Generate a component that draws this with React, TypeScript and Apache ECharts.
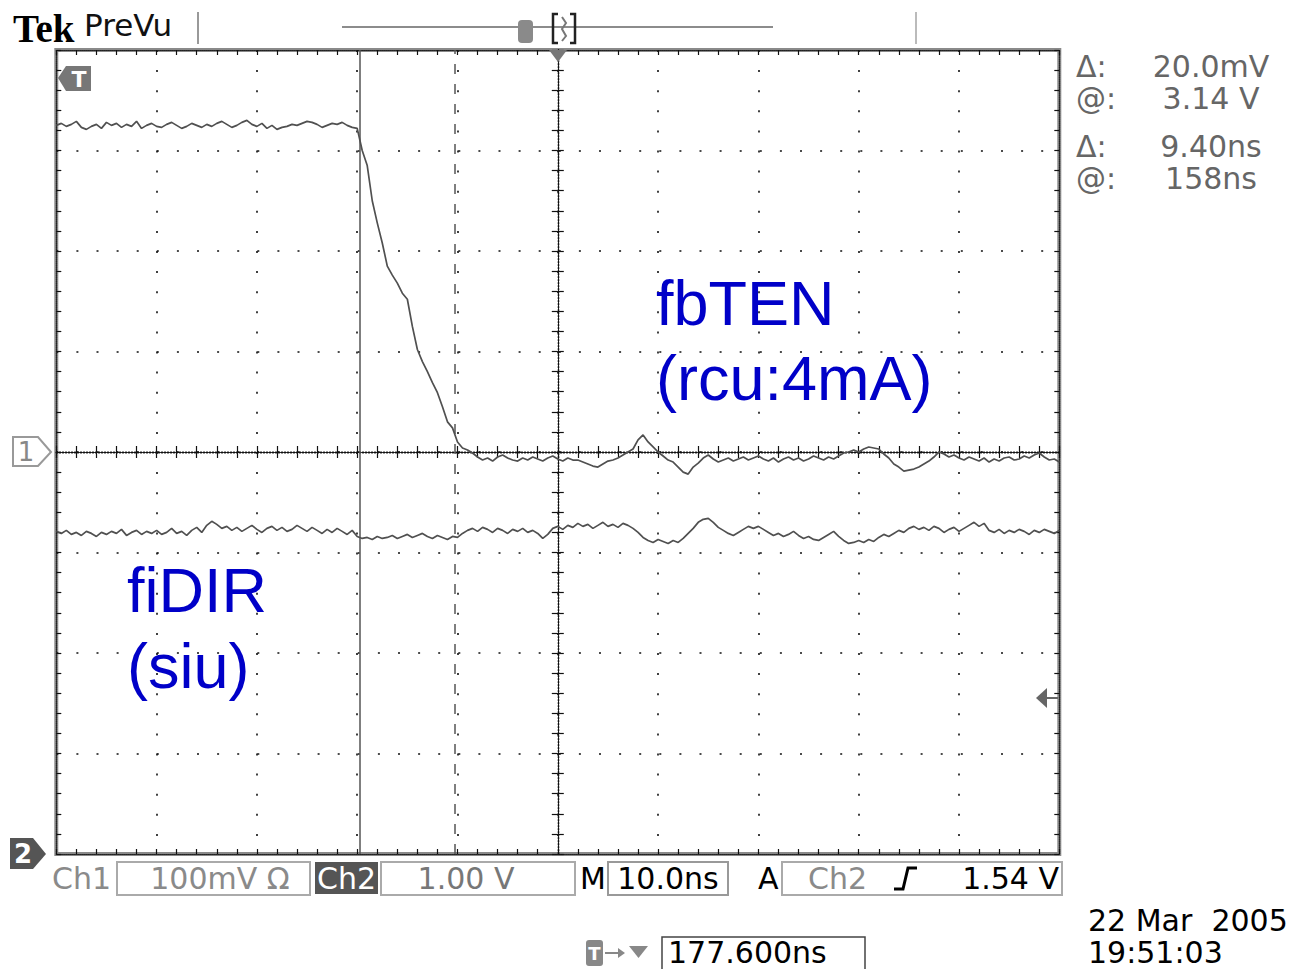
import React, { useEffect, useRef } from "react";
import * as echarts from "echarts";

// ---- Acquisition data ----
const SAMPLE_START_NS = -50; // left edge of the screen, relative to trigger
const SAMPLE_STEP_NS = 0.5;

// Ch1 (fbTEN) in mV, 100 mV/div, ground at centre
const CH1_MV = [
  325, 327, 324, 326, 329, 323, 321, 324, 326, 322,
  328, 325, 327, 323, 326, 324, 329, 322, 325, 327,
  324, 323, 326, 328, 325, 322, 324, 327, 325, 323,
  326, 324, 327, 329, 326, 323, 325, 328, 330, 326,
  324, 327, 322, 325, 321, 323, 324, 326, 325, 327,
  329, 328, 326, 323, 325, 327, 326, 328, 325, 323,
  322, 300, 285, 250, 228, 208, 185, 176, 168, 158,
  152, 125, 102, 90, 80, 69, 59, 45, 30, 24,
  10, 4, 2, -1, -5, -8, -6, -9, -5, -3,
  -6, -8, -9, -6, -8, -5, -7, -9, -6, -4,
  -7, -9, -6, -8, -8, -10, -12, -14, -15, -12,
  -9, -8, -6, -3, 0, 3, 12, 17, 10, 5,
  0, -4, -8, -10, -15, -20, -22, -15, -11, -6,
  -3, -7, -10, -8, -6, -9, -7, -5, -8, -6,
  -4, -7, -9, -6, -10, -7, -5, -8, -6, -9,
  -7, -4, -6, -8, -5, -7, -4, -1, 0, 2,
  0, 3, 5, 4, 3, -2, -6, -12, -15, -19,
  -18, -17, -15, -12, -9, -5, 0, -2, -5, -3,
  -6, -8, -5, -7, -9, -6, -10, -7, -9, -6,
  -5, -8, -7, -4, -6, -3, -1, -5, -8, -7, -10,
];

// Ch2 (fiDIR) in V, 1 V/div, ground marker at bottom of screen
const CH2_V = [
  3.21, 3.19, 3.22, 3.18, 3.2, 3.17, 3.21, 3.19, 3.16, 3.2,
  3.18, 3.21, 3.19, 3.23, 3.17, 3.2, 3.22, 3.18, 3.21, 3.19,
  3.22, 3.18, 3.2, 3.24, 3.19, 3.21, 3.17, 3.22, 3.25, 3.2,
  3.27, 3.31, 3.28, 3.24, 3.26, 3.22, 3.25, 3.21, 3.24, 3.27,
  3.23, 3.2, 3.24, 3.26, 3.22, 3.25, 3.21, 3.23, 3.27, 3.24,
  3.21, 3.25, 3.22, 3.19, 3.23, 3.2, 3.24, 3.21, 3.18, 3.22,
  3.16, 3.14, 3.15, 3.13, 3.16, 3.14, 3.15, 3.17, 3.14, 3.16,
  3.18, 3.15, 3.17, 3.19, 3.16, 3.14, 3.17, 3.15, 3.13, 3.16,
  3.15, 3.19, 3.22, 3.24, 3.21, 3.25, 3.23, 3.2, 3.24, 3.22,
  3.19, 3.23, 3.21, 3.24, 3.2, 3.22, 3.19, 3.14, 3.18, 3.24,
  3.26, 3.23, 3.27, 3.25, 3.29, 3.26, 3.28, 3.24, 3.27, 3.3,
  3.26, 3.28, 3.25, 3.29, 3.27, 3.24, 3.2, 3.15, 3.12, 3.1,
  3.13, 3.11, 3.09, 3.12, 3.1, 3.14, 3.19, 3.24, 3.3, 3.33,
  3.34, 3.3, 3.25, 3.22, 3.19, 3.17, 3.2, 3.23, 3.26, 3.24,
  3.26, 3.23, 3.2, 3.17, 3.19, 3.16, 3.18, 3.21, 3.17, 3.14,
  3.16, 3.13, 3.12, 3.15, 3.18, 3.21, 3.16, 3.12, 3.09, 3.1,
  3.12, 3.1, 3.13, 3.11, 3.15, 3.18, 3.16, 3.19, 3.22, 3.2,
  3.24, 3.26, 3.23, 3.25, 3.22, 3.26, 3.24, 3.2, 3.23, 3.25,
  3.21, 3.24, 3.27, 3.3, 3.26, 3.29, 3.22, 3.2, 3.23, 3.19,
  3.22, 3.2, 3.23, 3.21, 3.18, 3.22, 3.2, 3.23, 3.21, 3.19, 3.22,
];

const CH1_MV_PER_DIV = 100;
const CH2_V_PER_DIV = 1;
const CH2_GROUND_DIV = -4;
const CURSOR_NS = [-19.7, -10.3];

const X_TICKS_NS = [-50, 50, 10]; // min, max, ns/div
const Y_DIVS = [-4, 4, 1];

const READOUTS = [
  ["\u0394:", "20.0mV"],
  ["@:", "3.14 V"],
  ["\u0394:", "9.40ns"],
  ["@:", "158ns"],
];

const SANS = '"DejaVu Sans", sans-serif';
const ARIAL = '"Liberation Sans", Arial, sans-serif';

export default function App() {
  const ref = useRef<HTMLDivElement>(null);

  useEffect(() => {
    if (!ref.current) return;
    const chart = echarts.init(ref.current, null, { renderer: "svg" });

    const ch1 = CH1_MV.map((v, i) => [SAMPLE_START_NS + i * SAMPLE_STEP_NS, v / CH1_MV_PER_DIV]);
    const ch2 = CH2_V.map((v, i) => [SAMPLE_START_NS + i * SAMPLE_STEP_NS, v / CH2_V_PER_DIV + CH2_GROUND_DIV]);

    const tick = (len: number) => ({ show: true, inside: true, length: len, lineStyle: { color: "#111", width: 1.2 } });
    const minor = (len: number) => ({ show: true, splitNumber: 5, length: len, lineStyle: { color: "#111", width: 1.2 } });
    const dotted = { color: "#111", width: 1.6, type: [2, 18.1] as any };

    const xBase = { type: "value", min: X_TICKS_NS[0], max: X_TICKS_NS[1], interval: X_TICKS_NS[2], axisLabel: { show: false } };
    const yBase = { type: "value", min: Y_DIVS[0], max: Y_DIVS[1], interval: Y_DIVS[2], axisLabel: { show: false } };

    const edgeLine = { lineStyle: { color: "#222", width: 1.2, type: [1, 1] as any } };
    const centerLine = { lineStyle: { color: "#111", width: 1.3, type: [1.5, 1.5] as any } };

    const txt = (x: number, y: number, text: string, font: string, fill: string, align = "left") => ({
      type: "text",
      x,
      y,
      z: 100,
      style: { text, font, fill, align, verticalAlign: "middle" },
    });

    const graphic: any[] = [
      // header
      txt(13, 28, "Tek", 'bold 39px "Liberation Serif", serif', "#000"),
      txt(84, 25, "PreVu", `31px ${SANS}`, "#111"),
      { type: "line", z: 100, shape: { x1: 198, y1: 12, x2: 198, y2: 44 }, style: { stroke: "#999", lineWidth: 2 } },
      { type: "line", z: 100, shape: { x1: 916, y1: 12, x2: 916, y2: 44 }, style: { stroke: "#bbb", lineWidth: 2 } },
      { type: "line", z: 100, shape: { x1: 342, y1: 27, x2: 773, y2: 27 }, style: { stroke: "#8c8c8c", lineWidth: 2 } },
      { type: "rect", z: 101, shape: { x: 518, y: 20, width: 15, height: 23, r: 4 }, style: { fill: "#8a8a8a" } },
      txt(525.5, 32, "T", `bold 16px ${SANS}`, "#fff", "center"),
      { type: "polyline", z: 101, shape: { points: [[558, 14], [553, 14], [553, 43], [558, 43]] }, style: { stroke: "#222", lineWidth: 2.5, fill: "none" } },
      { type: "polyline", z: 101, shape: { points: [[570, 14], [575, 14], [575, 43], [570, 43]] }, style: { stroke: "#222", lineWidth: 2.5, fill: "none" } },
      { type: "polyline", z: 101, shape: { points: [[562, 17], [566, 23], [562, 29], [566, 36], [562, 41]] }, style: { stroke: "#777", lineWidth: 2, fill: "none" } },
      // trigger position on top
      { type: "polygon", z: 100, shape: { points: [[549, 50], [567, 50], [558, 62]] }, style: { fill: "#777" } },
      // trigger marker inside top-left
      { type: "polygon", z: 100, shape: { points: [[58, 78], [66, 66], [91, 66], [91, 91], [66, 91]] }, style: { fill: "#777" } },
      txt(79, 79, "T", `bold 22px ${SANS}`, "#fff", "center"),
      // channel 1 marker
      { type: "polygon", z: 100, shape: { points: [[13, 437], [38, 437], [51, 452], [38, 466], [13, 466]] }, style: { fill: "#fff", stroke: "#999", lineWidth: 2 } },
      txt(26, 452, "1", `26px ${SANS}`, "#888", "center"),
      // channel 2 marker
      { type: "polygon", z: 100, shape: { points: [[10, 838], [33, 838], [46, 854], [33, 869], [10, 869]] }, style: { fill: "#555" } },
      txt(23, 854, "2", `bold 26px ${SANS}`, "#fff", "center"),
      // trigger level marker on right
      { type: "polygon", z: 100, shape: { points: [[1036, 698], [1047, 688], [1047, 708]] }, style: { fill: "#666" } },
      { type: "line", z: 100, shape: { x1: 1047, y1: 698, x2: 1058, y2: 698 }, style: { stroke: "#666", lineWidth: 2 } },

      // bottom bar
      txt(52, 878, "Ch1", `30px ${SANS}`, "#8a8a8a"),
      { type: "rect", z: 100, shape: { x: 117, y: 862, width: 193, height: 33 }, style: { fill: "none", stroke: "#aaa", lineWidth: 2 } },
      txt(220, 878, "100mV \u03a9", `30px ${SANS}`, "#8a8a8a", "center"),
      { type: "rect", z: 100, shape: { x: 315, y: 862, width: 63, height: 32 }, style: { fill: "#555" } },
      txt(346.5, 878, "Ch2", `30px ${SANS}`, "#fff", "center"),
      { type: "rect", z: 100, shape: { x: 381, y: 862, width: 194, height: 33 }, style: { fill: "none", stroke: "#aaa", lineWidth: 2 } },
      txt(466, 878, "1.00 V", `30px ${SANS}`, "#777", "center"),
      txt(580, 878, "M", `30px ${SANS}`, "#000"),
      { type: "rect", z: 100, shape: { x: 608, y: 862, width: 120, height: 33 }, style: { fill: "none", stroke: "#999", lineWidth: 2 } },
      txt(668, 878, "10.0ns", `30px ${SANS}`, "#000", "center"),
      txt(758, 878, "A", `30px ${SANS}`, "#000"),
      { type: "rect", z: 100, shape: { x: 782, y: 862, width: 280, height: 33 }, style: { fill: "none", stroke: "#aaa", lineWidth: 2 } },
      txt(808, 878, "Ch2", `30px ${SANS}`, "#8a8a8a"),
      { type: "polyline", z: 100, shape: { points: [[894, 889], [903, 889], [908, 868], [917, 868]] }, style: { stroke: "#000", lineWidth: 3, fill: "none" } },
      txt(1059, 878, "1.54 V", `30px ${SANS}`, "#000", "right"),

      // bottom trigger position readout
      { type: "rect", z: 100, shape: { x: 586, y: 940, width: 17, height: 26, r: 3 }, style: { fill: "#888" } },
      txt(594.5, 953, "T", `bold 18px ${SANS}`, "#fff", "center"),
      { type: "line", z: 100, shape: { x1: 605, y1: 953, x2: 619, y2: 953 }, style: { stroke: "#888", lineWidth: 2 } },
      { type: "polygon", z: 100, shape: { points: [[618, 948], [625, 953], [618, 958]] }, style: { fill: "#888" } },
      { type: "polygon", z: 100, shape: { points: [[629, 946], [648, 946], [638.5, 958]] }, style: { fill: "#888" } },
      { type: "rect", z: 100, shape: { x: 662, y: 937, width: 203, height: 36 }, style: { fill: "none", stroke: "#444", lineWidth: 1.5 } },
      txt(668, 952, "177.600ns", `30px ${SANS}`, "#000"),
      txt(1088, 920, "22 Mar  2005", `30px ${SANS}`, "#000"),
      txt(1088, 952, "19:51:03", `30px ${SANS}`, "#000"),

      // annotations
      txt(656, 303, "fbTEN", `63px ${ARIAL}`, "#0000c8"),
      txt(656, 378, "(rcu:4mA)", `63px ${ARIAL}`, "#0000c8"),
      txt(127, 590, "fiDIR", `63px ${ARIAL}`, "#0000c8"),
      txt(127, 666, "(siu)", `63px ${ARIAL}`, "#0000c8"),
    ];

    const rowY = [66, 98, 146, 178];
    READOUTS.forEach((r, i) => {
      graphic.push(txt(1076, rowY[i], r[0], `30px ${SANS}`, "#666"));
      graphic.push(txt(1211, rowY[i], r[1], `30px ${SANS}`, "#666", "center"));
    });

    chart.setOption({
      animation: false,
      backgroundColor: "#fff",
      grid: {
        left: 56.3,
        top: 50,
        width: 1003,
        height: 804,
        show: true,
        borderColor: "#8a8a8a",
        borderWidth: 4,
        backgroundColor: "transparent",
      },
      xAxis: [
        {
          ...xBase,
          position: "bottom",
          axisLine: { show: true, onZero: false, ...edgeLine },
          axisTick: tick(5),
          minorTick: minor(5),
          splitLine: { show: true, showMinLine: false, showMaxLine: false, lineStyle: dotted },
        },
        {
          ...xBase,
          position: "top",
          axisLine: { show: true, onZero: false, ...edgeLine },
          axisTick: tick(5),
          minorTick: minor(5),
          splitLine: { show: false },
        },
        {
          ...xBase,
          position: "bottom",
          axisLine: { show: true, onZero: true, onZeroAxisIndex: 0, ...centerLine },
          axisTick: tick(6),
          minorTick: minor(6),
          splitLine: { show: false },
        },
        {
          ...xBase,
          position: "top",
          axisLine: { show: true, onZero: true, onZeroAxisIndex: 0, ...centerLine },
          axisTick: tick(6),
          minorTick: minor(6),
          splitLine: { show: false },
        },
      ],
      yAxis: [
        {
          ...yBase,
          position: "left",
          axisLine: { show: true, onZero: false, ...edgeLine },
          axisTick: tick(5),
          minorTick: minor(5),
          splitLine: { show: true, showMinLine: false, showMaxLine: false, lineStyle: dotted },
        },
        {
          ...yBase,
          position: "right",
          axisLine: { show: true, onZero: false, ...edgeLine },
          axisTick: tick(5),
          minorTick: minor(5),
          splitLine: { show: false },
        },
        {
          ...yBase,
          position: "left",
          axisLine: { show: true, onZero: true, onZeroAxisIndex: 0, ...centerLine },
          axisTick: tick(6),
          minorTick: minor(6),
          splitLine: { show: false },
        },
        {
          ...yBase,
          position: "right",
          axisLine: { show: true, onZero: true, onZeroAxisIndex: 0, ...centerLine },
          axisTick: tick(6),
          minorTick: minor(6),
          splitLine: { show: false },
        },
      ],
      series: [
        {
          name: "fbTEN",
          type: "line",
          xAxisIndex: 0,
          yAxisIndex: 0,
          data: ch1,
          symbol: "none",
          showSymbol: false,
          z: 5,
          lineStyle: { color: "#505050", width: 1.7 },
          markLine: {
            silent: true,
            symbol: ["none", "none"],
            label: { show: false },
            lineStyle: { color: "#555", width: 1.5 },
            data: [
              { xAxis: CURSOR_NS[0], lineStyle: { type: "solid", color: "#555", width: 1.5 } },
              { xAxis: CURSOR_NS[1], lineStyle: { type: [10, 10], color: "#555", width: 1.5 } },
            ],
          },
        },
        {
          name: "fiDIR",
          type: "line",
          xAxisIndex: 0,
          yAxisIndex: 0,
          data: ch2,
          symbol: "none",
          showSymbol: false,
          z: 5,
          lineStyle: { color: "#505050", width: 1.7 },
        },
      ],
      graphic,
    });

    return () => chart.dispose();
  }, []);

  return (
    <div
      ref={ref}
      style={{ position: "absolute", left: 0, top: 0, width: 1296, height: 969, background: "#fff" }}
    />
  );
}
